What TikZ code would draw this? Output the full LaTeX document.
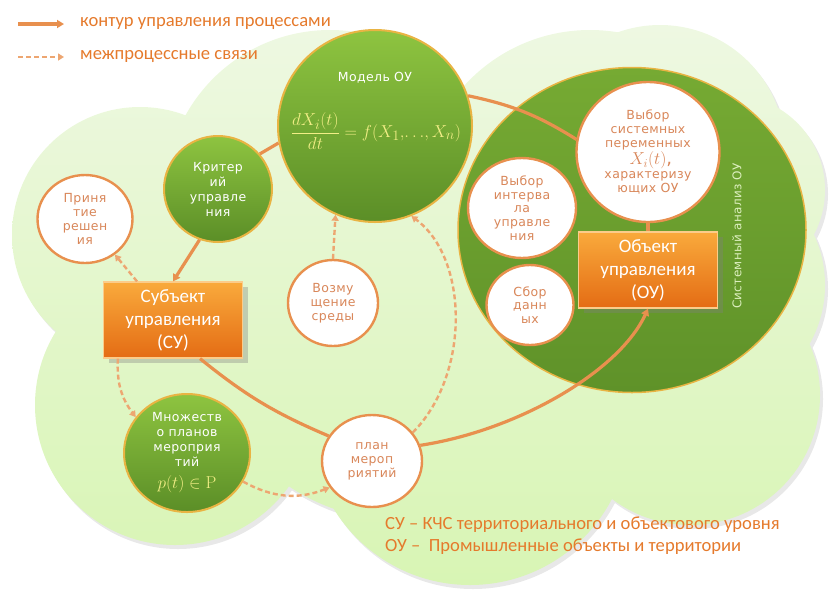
\documentclass[tikz,border=0pt]{standalone}
\usepackage[no-math]{fontspec}
\usepackage{amsmath}
\setmainfont{Carlito}
\newfontfamily\verdfont[LetterSpace=3]{DejaVu Sans}
\usetikzlibrary{shapes.geometric,arrows.meta,positioning,shadows,calc}
\definecolor{cloudTop}{HTML}{EEF8E2}
\definecolor{cloudBot}{HTML}{D8F5B4}
\definecolor{leafTop}{HTML}{8EC440}
\definecolor{leafBot}{HTML}{5B8E27}
\definecolor{leafRim}{HTML}{E9B443}
\definecolor{sysTop}{HTML}{76AA33}
\definecolor{sysBot}{HTML}{5F9229}
\definecolor{boxTop}{HTML}{F9AA3C}
\definecolor{boxBot}{HTML}{E46C14}
\definecolor{linkOrange}{HTML}{E8904E}
\definecolor{textOrange}{HTML}{D9875A}
\definecolor{noteOrange}{HTML}{E57A2C}
\definecolor{formulaYellow}{HTML}{F2EE86}
\definecolor{paleLabel}{HTML}{DCEFBE}

\tikzset{
  leaf/.style={ellipse, draw=leafRim, line width=2pt, top color=leafTop, bottom color=leafBot,
    text=white, align=center, inner sep=0pt, font=\verdfont\fontsize{12.5}{15}\selectfont},
  bubble/.style={ellipse, draw=linkOrange, line width=2.4pt, fill=white, text=textOrange,
    align=center, inner sep=0pt, font=\verdfont\fontsize{12.5}{13.8}\selectfont},
  actor/.style={rectangle, draw=boxTop!60!white, line width=1.2pt, top color=boxTop, bottom color=boxBot,
    text=white, align=center, inner sep=0pt, minimum width=139pt, minimum height=76pt,
    font=\fontsize{19}{23}\selectfont, drop shadow={opacity=0.35, shadow xshift=5pt, shadow yshift=-5pt}},
  flow/.style={draw=linkOrange, line width=3.2pt},
  flowto/.style={flow, -{Triangle[length=7pt,width=8pt]}},
  link/.style={draw=linkOrange!80, line width=2.4pt, dash pattern=on 5pt off 3pt, -{Triangle[length=6pt,width=7pt]}},
  note/.style={text=noteOrange, anchor=west, inner sep=0pt, font=\fontsize{18.6}{20}\selectfont}
}

\begin{document}
\begin{tikzpicture}[x=1pt,y=-1pt]
    \useasboundingbox (0,0) rectangle (829,590);
    % Cloud
    \fill[black!30, opacity=0.3] foreach \cx/\cy/\r in {140/235/128, 330/195/165, 590/200/170, 660/150/125,
        730/190/95, 705/285/120, 175/405/140, 470/425/160, 690/395/130, 400/320/200}
        {(\cx+3,\cy+4) circle[radius=\r pt]};
    \shade[top color=cloudTop, bottom color=cloudBot] foreach \cx/\cy/\r in {140/235/128, 330/195/165,
        590/200/170, 660/150/125, 730/190/95, 705/285/120, 175/405/140, 470/425/160, 690/395/130, 400/320/200}
        {(\cx,\cy) circle[radius=\r pt]};

    % Legend
    \coordinate (lgSolidA) at (18,24);
    \coordinate (lgSolidB) at (64,24);
    \coordinate (lgDashA) at (18,57);
    \coordinate (lgDashB) at (64,57);
    \draw[flowto] (lgSolidA) -- (lgSolidB);
    \draw[link] (lgDashA) -- (lgDashB);
    \node[note] (lgSolidTxt) at (80,24) {контур управления процессами};
    \node[note] (lgDashTxt) at (80,57) {межпроцессные связи};

    % System analysis of the object
    \node[ellipse, draw=leafRim, line width=1.5pt, top color=sysTop, bottom color=sysBot,
        minimum width=348pt, minimum height=325pt] (sysan) at (632,230) {};
    \node[rotate=90, text=paleLabel, font=\verdfont\fontsize{12}{13}\selectfont] (sysLabel) at (737,236)
        {Системный анализ ОУ};
    \node[bubble, minimum width=143pt, minimum height=140pt] (varsel) at (648,152)
        {Выбор\\системных\\переменных\\[1pt]{\fontsize{18}{20}\selectfont$X_i(t)$\rlap{,}}\\характеризу\\ющих ОУ};
    \node[bubble, minimum width=108pt, minimum height=100pt] (interval) at (522,208)
        {Выбор\\интерва\\ла\\управле\\ния};
    \node[bubble, minimum width=87pt, minimum height=80pt] (datacol) at (530,305) {Сбор\\данн\\ых};
    \node[actor] (ou) at (648,270) {Объект\\управления\\(ОУ)};

    % Model and control loop
    \node[leaf, minimum width=194pt, minimum height=192pt] (model) at (375,126) {};
    \node[text=white, font=\verdfont\fontsize{12.5}{14}\selectfont] (modelTitle) at (375,78) {Модель ОУ};
    \node[text=formulaYellow, font=\fontsize{19}{23}\selectfont] (modelEq) at (376,131)
        {$\dfrac{dX_i(t)}{dt}=f(X_1,\!\ldots\!,X_n)$};
    \node[leaf, minimum width=108pt, minimum height=106pt] (crit) at (218,189) {Критер\\ий\\управле\\ния};
    \node[bubble, minimum width=95pt, minimum height=88pt] (decision) at (85,219) {Приня\\тие\\решен\\ия};
    \node[actor] (su) at (173,320) {Субъект\\управления\\(СУ)};
    \node[bubble, minimum width=90pt, minimum height=86pt] (disturb) at (333,303) {Возму\\щение\\среды};
    \node[leaf, minimum width=126pt, minimum height=118pt] (plans) at (187,453)
        {Множеств\\о планов\\мероприя\\тий\\[7pt]{\color{formulaYellow}\fontsize{19}{22}\selectfont$p(t)\in\mathrm{P}$}};
    \node[bubble, minimum width=100pt, minimum height=92pt] (plan) at (372,461) {план\\мероп\\риятий};

    % Solid contour
    \draw[flow] (crit.40) -- (model.190);
    \draw[flow] (model.18) to[bend left=10] (varsel.170);
    \draw[flow] (varsel) -- (ou);
    \draw[flowto] (crit.250) -- (su.north);
    \draw[flow] (su.-55) to[bend right=8] (plan.150);
    \draw[flowto] (plan.18) .. controls (520,430) and (620,370) .. (ou.south);

    % Dashed links
    \draw[link] (su.133) -- (decision.-50);
    \draw[link] (su.215) to[bend right=20] (plans.145);
    \draw[link] (plans.-27) to[bend right=25] (plan.212);
    \draw[link] (disturb.north) -- (model.246);
    \draw[link] (plan.35) .. controls +(57,-57) and +(58,43) .. (model.-68);

    % Notes
    \node[note] (noteSu) at (385,525) {СУ – КЧС территориального и объектового уровня};
    \node[note] (noteOu) at (385,547) {ОУ –\ \ Промышленные объекты и территории};
\end{tikzpicture}
\end{document}
